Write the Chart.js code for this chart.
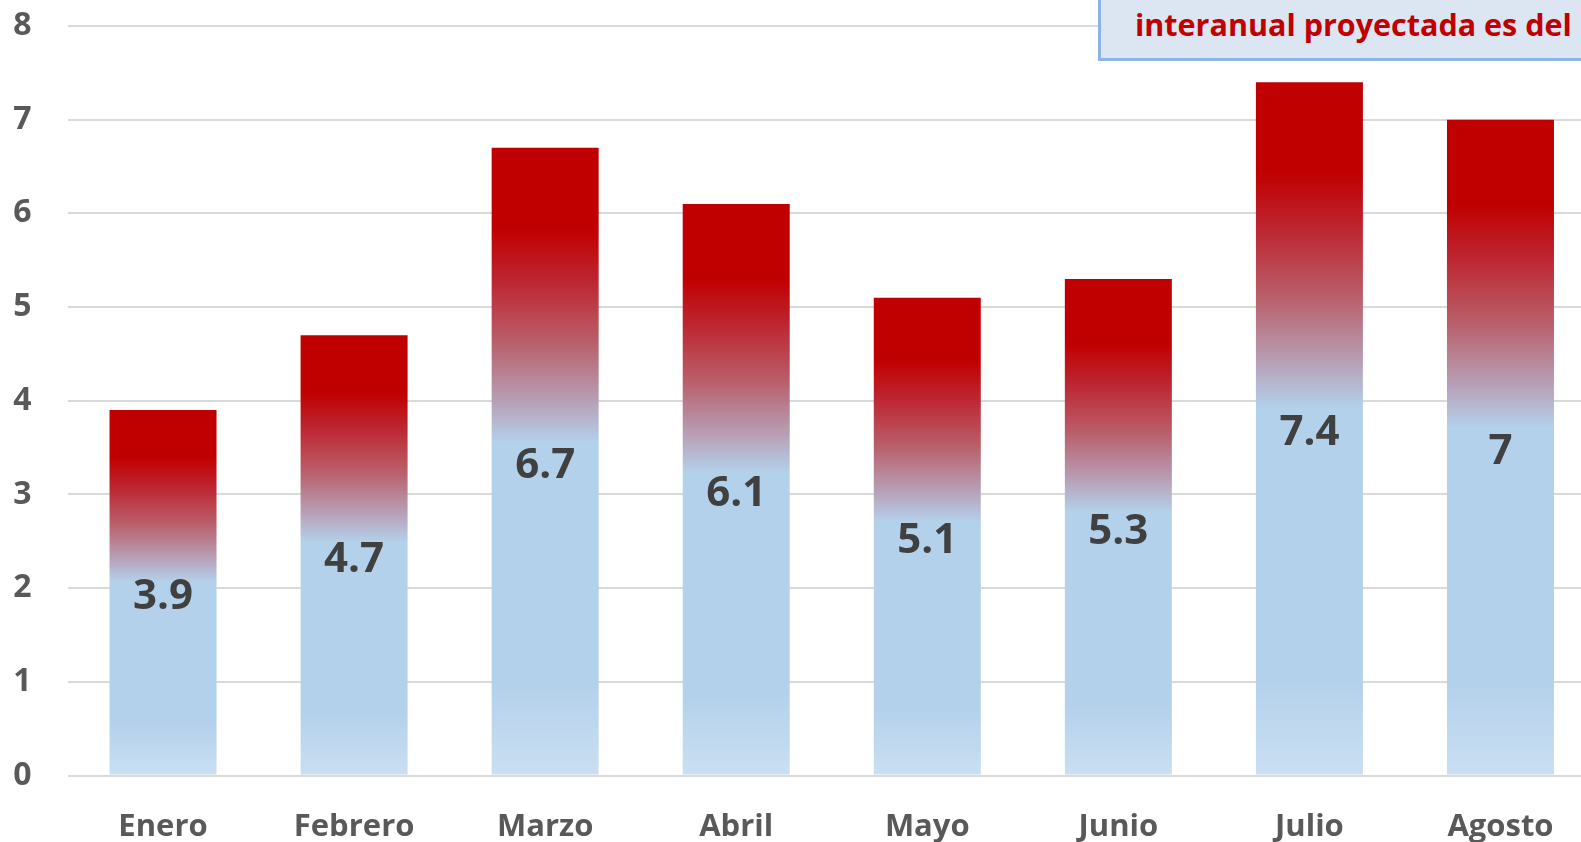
<!DOCTYPE html>
<html>
<head>
<meta charset="utf-8">
<script src="https://cdn.jsdelivr.net/npm/chart.js@4/dist/chart.umd.min.js"></script>
<style>
  html, body { margin: 0; padding: 0; overflow: hidden; background: #fff; }
  #wrap { position: relative; width: 1581px; height: 842px; overflow: hidden; }
  #acquisitions { position: absolute; left: 0; top: 0; }
  .nota {
    position: absolute; left: 1098px; top: -40px; width: 600px; height: 101px;
    background: #dce6f2; border: 3px solid #8eb4e3; box-sizing: border-box;
    font-family: "Open Sans", sans-serif; font-weight: bold; color: #c00000;
    font-size: 30.5px;
  }
  .nota span { position: absolute; left: 34px; top: 40px; white-space: nowrap; }
</style>
</head>
<body>
<div id="wrap">
  <canvas id="acquisitions" width="1600" height="842"></canvas>
  <div class="nota"><span>interanual proyectada es del</span></div>
</div>
<script>
const meses = ['Enero', 'Febrero', 'Marzo', 'Abril', 'Mayo', 'Junio', 'Julio', 'Agosto']
const inflacion = [3.9, 4.7, 6.7, 6.1, 5.1, 5.3, 7.4, 7]
const yTicks = [0, 1, 2, 3, 4, 5, 6, 7, 8]

// degradado rojo -> azul de cada barra
function barGradient(context) {
  const chart = context.chart
  const {ctx, chartArea, scales} = chart
  if (!chartArea || context.type !== 'data') return '#b4d1eb'
  const v = context.raw
  const top = scales.y.getPixelForValue(v)
  const base = scales.y.getPixelForValue(0)
  const g = ctx.createLinearGradient(0, top, 0, base)
  g.addColorStop(0, '#c00000')
  g.addColorStop(0.13, '#c00000')
  g.addColorStop(0.21, '#bd2530')
  g.addColorStop(0.31, '#b95f6a')
  g.addColorStop(0.4, '#b79db3')
  g.addColorStop(0.47, '#b4d1eb')
  g.addColorStop(0.86, '#b4d1eb')
  g.addColorStop(1, '#cadff2')
  return g
}

const centerLabels = {
  id: 'centerLabels',
  afterDatasetsDraw(chart) {
    const {ctx} = chart
    const meta = chart.getDatasetMeta(0)
    ctx.save()
    ctx.font = 'bold 42px "Open Sans"'
    ctx.fillStyle = '#404040'
    ctx.textAlign = 'center'
    ctx.textBaseline = 'middle'
    meta.data.forEach((bar, i) => {
      ctx.fillText(String(inflacion[i]), bar.x, (bar.y + bar.base) / 2 + 5)
    })
    ctx.restore()
  }
}

const data = {
  labels: meses,
  datasets: [
    {
      label: 'Inflación',
      data: inflacion,
      backgroundColor: barGradient,
      borderWidth: 0,
      categoryPercentage: 1,
      barPercentage: 0.56,
    }
  ]
}

const config = {
  type: 'bar',
  data: data,
  plugins: [centerLabels],
  options: {
    responsive: false,
    animation: false,
    devicePixelRatio: 1,
    layout: { padding: { top: 26, right: 4, left: 0, bottom: 0 } },
    plugins: {
      legend: { display: false },
      tooltip: { enabled: false },
      title: { display: false }
    },
    scales: {
      x: {
        grid: { display: false, drawTicks: false },
        border: { display: false },
        ticks: {
          color: '#595959',
          font: { family: 'Open Sans', weight: 'bold', size: 31 },
          padding: 33,
          maxRotation: 0
        },
        afterFit(scale) { scale.height = 66.5 }
      },
      y: {
        min: 0,
        max: 8,
        afterBuildTicks(scale) { scale.ticks = yTicks.map(v => ({value: v})) },
        grid: { color: '#d9d9d9', lineWidth: 2, drawTicks: false },
        border: { display: false },
        ticks: {
          color: '#595959',
          font: { family: 'Open Sans', weight: 'bold', size: 32 },
          padding: 36
        },
        afterFit(scale) {
          scale.width = 67.5
          scale.paddingTop = 0
          scale.paddingBottom = 0
        }
      }
    }
  }
}

new Chart(document.getElementById('acquisitions'), config)
</script>
</body>
</html>
